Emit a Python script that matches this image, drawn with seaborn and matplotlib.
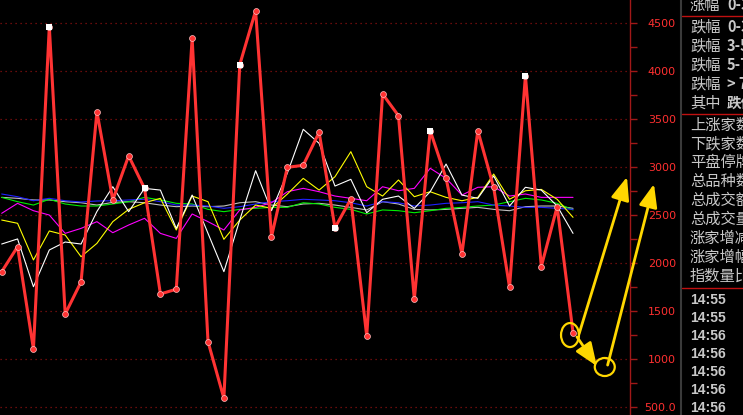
import numpy as np
import pandas as pd
import seaborn as sns
import matplotlib.pyplot as plt
from matplotlib.patches import Ellipse
from matplotlib.lines import Line2D
from matplotlib.ticker import MultipleLocator, FuncFormatter

# values, one per minute tick
red_vals = [1913, 2173, 1107, 4465, 1472, 1806, 3580, 2660, 3120, 2780, 1681, 1730, 4344,
            1184, 594, 4069, 4631, 2277, 3000, 3021, 3365, 2371, 2670, 1243, 3764, 3538,
            1625, 3382, 2886, 2097, 3382, 2790, 1750, 3955, 1966, 2590, 1278]
white_vals = [2201, 2254, 1756, 2139, 2222, 2201, 2540, 2798, 2538, 2781, 2763, 2364, 2711,
              2312, 1913, 2451, 2965, 2548, 2940, 3396, 3250, 2805, 2875, 2527, 2667, 2701,
              2573, 2746, 3034, 2711, 2677, 2910, 2597, 2792, 2763, 2597, 2312]
yellow_vals = [2451, 2417, 2035, 2337, 2295, 2069, 2208, 2434, 2562, 2631, 2677, 2347, 2701,
               2642, 2250, 2451, 2607, 2573, 2722, 2885, 2763, 2902, 3163, 2798, 2701, 2868,
               2694, 2746, 2687, 2652, 2687, 2930, 2667, 2756, 2770, 2667, 2479]
magenta_vals = [2521, 2625, 2548, 2503, 2312, 2364, 2434, 2319, 2399, 2469, 2312, 2260, 2514,
                2434, 2347, 2556, 2583, 2631, 2746, 2781, 2746, 2701, 2677, 2652, 2798, 2756,
                2781, 2990, 2885, 2711, 2792, 2798, 2701, 2722, 2687, 2687, 2687]
green_vals = [2687, 2642, 2607, 2667, 2618, 2597, 2597, 2618, 2642, 2687, 2660, 2625, 2618,
              2562, 2538, 2562, 2573, 2583, 2583, 2631, 2618, 2583, 2562, 2514, 2556, 2548,
              2527, 2548, 2573, 2583, 2597, 2607, 2642, 2677, 2660, 2625, 2556]
blue_vals = [2722, 2694, 2652, 2677, 2652, 2639, 2649, 2652, 2660, 2667, 2642, 2607, 2607,
             2597, 2573, 2590, 2618, 2642, 2652, 2667, 2660, 2652, 2631, 2597, 2642, 2631,
             2597, 2607, 2625, 2631, 2642, 2607, 2597, 2583, 2583, 2573, 2562]
gray_vals = [2687, 2677, 2660, 2660, 2642, 2631, 2607, 2635, 2642, 2631, 2607, 2590, 2597,
             2590, 2597, 2631, 2642, 2607, 2590, 2618, 2625, 2607, 2583, 2556, 2642, 2618,
             2562, 2556, 2562, 2573, 2583, 2562, 2548, 2590, 2597, 2597, 2573]

panel_labels = ["涨幅", "跌幅", "跌幅", "跌幅", "跌幅", "其中"]
panel_ranges = ["0-3%", "0-3%", "3-5%", "5-7%", "> 7%", "跌停"]
stat_labels = ["上涨家数", "下跌家数", "平盘停牌", "总品种数", "总成交额",
               "总成交量", "涨家增减", "涨家增幅", "指数量比"]
times = ["14:55", "14:55", "14:56", "14:56", "14:56", "14:56", "14:56"]

sns.set_theme(style="dark", rc={"axes.facecolor": "black", "figure.facecolor": "black"})
plt.rcParams['font.family'] = ['DejaVu Sans']

df = pd.DataFrame({"idx": np.arange(len(red_vals)), "red": red_vals, "white": white_vals,
                   "yellow": yellow_vals, "magenta": magenta_vals, "green": green_vals,
                   "blue": blue_vals, "gray": gray_vals})

fig = plt.figure(figsize=(7.43, 4.15), dpi=100)
ax = fig.add_axes([0, 0, 630 / 743, 1])
ax.set_facecolor("black")

thin = [("gray", "#c0c0c0"), ("green", "#00ee00"), ("blue", "#2020ff"),
        ("magenta", "#ff00ff"), ("yellow", "#ffff00"), ("white", "#ffffff")]
for col, c in thin:
    sns.lineplot(data=df, x="idx", y=col, color=c, lw=0.8, ax=ax, legend=False)

sns.lineplot(data=df, x="idx", y="red", color="#ff3333", lw=2.2, ax=ax, legend=False)
sns.scatterplot(data=df, x="idx", y="red", color="#ff3333", s=18, edgecolor="#ffc0c0",
                linewidth=0.5, ax=ax, legend=False, zorder=5)
sq = df[df["idx"] % 6 == 3]
sns.scatterplot(data=sq, x="idx", y="red", color="white", marker="s", s=16,
                edgecolor="white", linewidth=0, ax=ax, legend=False, zorder=6)

ax.set_xlim(-0.107, 39.59)
ax.set_ylim(420, 4743)
ax.set_xlabel("")
ax.set_ylabel("")
ax.set_xticks([])

ax.yaxis.set_major_locator(MultipleLocator(500))
ax.yaxis.set_minor_locator(MultipleLocator(250))
ax.yaxis.set_major_formatter(FuncFormatter(lambda v, _: "500.0" if v == 500 else f"{int(v)}"))
ax.yaxis.tick_right()
ax.tick_params(axis="y", which="both", direction="out", length=5, width=1,
               color="#a01818", labelcolor="#ff3030", labelsize=8, pad=28)
plt.setp(ax.get_yticklabels(), ha="right")
ax.grid(axis="y", which="major", linestyle=(0, (1, 3)), color="#8a1010", lw=0.9)
ax.grid(axis="x", visible=False)
for s in ["top", "left", "bottom"]:
    ax.spines[s].set_visible(False)
ax.spines["right"].set_color("#a01818")
ax.spines["right"].set_linewidth(1)

# yellow annotation marks
yl = "#ffd700"
ax.add_patch(Ellipse((35.81, 1253), 1.13, 250, fill=False, ec=yl, lw=1.6, clip_on=False, zorder=7))
ax.add_patch(Ellipse((38.0, 920), 1.26, 188, fill=False, ec=yl, lw=1.6, clip_on=False, zorder=7))
arrow = dict(arrowstyle="-|>,head_length=1.0,head_width=0.4", color=yl, lw=2,
             mutation_scale=14, shrinkA=0, shrinkB=0)
ax.annotate("", xy=(37.5, 930), xytext=(36.25, 1233), arrowprops=arrow, annotation_clip=False)
ax.annotate("", xy=(39.4, 2900), xytext=(36.38, 1264), arrowprops=arrow, annotation_clip=False)
ax.annotate("", xy=(41.1, 2826), xytext=(38.18, 940), arrowprops=arrow, annotation_clip=False)

# right-hand info panel
W, H = 743, 415
fig.add_artist(Line2D([681 / W] * 2, [0, 1], transform=fig.transFigure, color="#3a3a3a", lw=1.5))
for yy in [16, 114, 288]:
    fig.add_artist(Line2D([682 / W, 1], [1 - yy / H] * 2, transform=fig.transFigure,
                          color="#c01010", lw=1))
txt = "#c8c8c8"
cjk = ["Noto Sans CJK SC", "DejaVu Sans"]
row_y = [5, 27, 46, 65, 84, 103]
for y, lab, rng in zip(row_y, panel_labels, panel_ranges):
    fig.text(690 / W, 1 - y / H, lab, color=txt, fontsize=11, family=cjk, va="center")
    fig.text(727 / W, 1 - y / H, rng, color=txt, fontsize=10.5, family=cjk,
             fontweight="bold", va="center")
for k, lab in enumerate(stat_labels):
    y = 125 + k * 18.9
    fig.text(690 / W, 1 - y / H, lab, color=txt, fontsize=11, family=cjk, va="center")
for k, t in enumerate(times):
    y = 300 + k * 18
    fig.text(690 / W, 1 - y / H, t, color=txt, fontsize=10, family=["Liberation Sans"],
             fontweight="bold", va="center")

fig.savefig("out.png", dpi=100, facecolor="black")
